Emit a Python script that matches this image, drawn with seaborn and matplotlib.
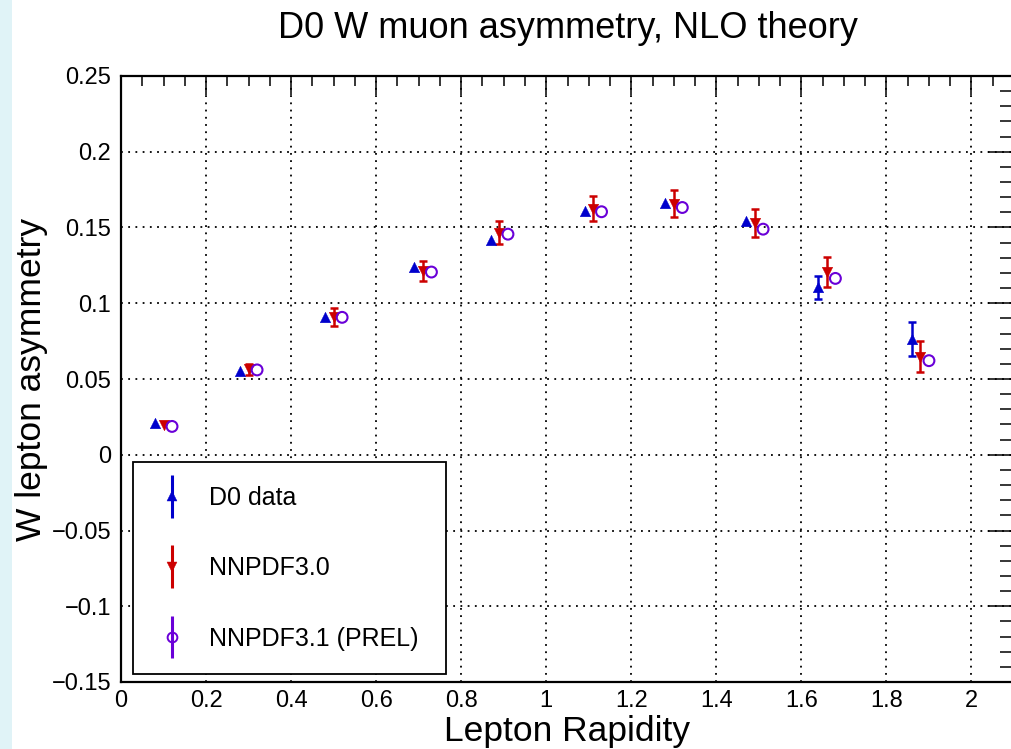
import numpy as np
import pandas as pd
import matplotlib
matplotlib.use("Agg")
import matplotlib.pyplot as plt
import matplotlib.ticker as mticker
from matplotlib.container import ErrorbarContainer
from matplotlib.legend_handler import HandlerErrorbar
from matplotlib.patches import Rectangle
import seaborn as sns

# ---------------- data ----------------
rapidity = [0.10, 0.30, 0.50, 0.71, 0.89, 1.11, 1.30, 1.49, 1.66, 1.88]
offset = 0.02  # horizontal dodge between the three series

d0_asym = [0.021, 0.055, 0.091, 0.124, 0.1415, 0.161, 0.166, 0.1545, 0.1104, 0.0763]
d0_err = [0.0, 0.0, 0.0, 0.0, 0.0, 0.0, 0.0, 0.0, 0.0076, 0.011]

nnpdf30_asym = [0.0195, 0.0563, 0.0910, 0.1215, 0.1466, 0.1625, 0.1658, 0.1527, 0.1206, 0.0648]
nnpdf30_err = [0.0, 0.0037, 0.0058, 0.0066, 0.0078, 0.0083, 0.0088, 0.0092, 0.0101, 0.0105]

nnpdf31_asym = [0.0187, 0.056, 0.0907, 0.1206, 0.1456, 0.1604, 0.1632, 0.1489, 0.1164, 0.0621]
nnpdf31_err = [0.0, 0.0, 0.0, 0.0, 0.0, 0.0, 0.0, 0.0, 0.0, 0.0]

labels = ["D0 data", "NNPDF3.0", "NNPDF3.1 (PREL)"]
title = "D0 W muon asymmetry, NLO theory"
xlabel = "Lepton Rapidity"
ylabel = "W lepton asymmetry"

# ---------------- style ----------------
sns.set_theme(style="white")
plt.rcParams["font.family"] = ["Liberation Sans", "DejaVu Sans"]
plt.rcParams["axes.unicode_minus"] = True
plt.rcParams["text.color"] = "black"
plt.rcParams["axes.labelcolor"] = "black"
plt.rcParams["xtick.color"] = "black"
plt.rcParams["ytick.color"] = "black"

BLUE = "#0000cc"
RED = "#cc0000"
PURPLE = "#6a00d8"

W, H = 1011, 749
fig = plt.figure(figsize=(W / 100, H / 100), dpi=100)
fig.patch.set_facecolor("white")
# light cyan strip at the left edge of the screenshot
fig.patches.append(Rectangle((0, 0), 12 / W, 1, transform=fig.transFigure,
                             facecolor="#e0f3f7", edgecolor="none", zorder=0))

left_px, right_px, top_px, bot_px = 121, 1014, 76, 682
ax = fig.add_axes([left_px / W, 1 - bot_px / H, (right_px - left_px) / W, (bot_px - top_px) / H])
ax.set_facecolor("white")

x_d0 = np.array(rapidity) - offset
x_30 = np.array(rapidity)
x_31 = np.array(rapidity) + offset

df = pd.DataFrame({
    "x": np.concatenate([x_d0, x_30, x_31]),
    "y": np.concatenate([d0_asym, nnpdf30_asym, nnpdf31_asym]),
    "err": np.concatenate([d0_err, nnpdf30_err, nnpdf31_err]),
    "series": np.repeat(labels, len(rapidity)),
})

styles = {
    labels[0]: dict(color=BLUE, marker="^", ms=7.6, filled=True),
    labels[1]: dict(color=RED, marker="v", ms=7.6, filled=True),
    labels[2]: dict(color=PURPLE, marker="o", ms=7.8, filled=False),
}

handles = []
for lab in labels:
    st = styles[lab]
    sub = df[df["series"] == lab]
    m = sub["err"] > 0
    if m.any():
        ax.errorbar(sub["x"][m], sub["y"][m], yerr=sub["err"][m], fmt="none",
                    ecolor=st["color"], elinewidth=1.8, capsize=2.7, capthick=1.8, zorder=3)
    if st["filled"]:
        sns.scatterplot(data=sub, x="x", y="y", ax=ax, marker=st["marker"],
                        color=st["color"], s=st["ms"] ** 2, edgecolor=st["color"],
                        linewidth=0.3, zorder=4, legend=False)
    else:
        sns.scatterplot(data=sub, x="x", y="y", ax=ax, marker=st["marker"],
                        facecolors="none", edgecolor=st["color"], s=st["ms"] ** 2,
                        linewidth=1.5, zorder=4, legend=False)
    h = ax.errorbar([np.nan], [np.nan], yerr=[1.0], fmt=st["marker"], color=st["color"],
                    ms=st["ms"] * 0.9, mfc=(st["color"] if st["filled"] else "none"),
                    mec=st["color"], mew=(0.3 if st["filled"] else 1.4),
                    elinewidth=2.2, capsize=0, label=lab)
    handles.append(h)

# ---------------- axes ----------------
ax.set_xlim(0, 2.1)
ax.set_ylim(-0.15, 0.25)

ax.xaxis.set_major_locator(mticker.MultipleLocator(0.2))
ax.xaxis.set_minor_locator(mticker.MultipleLocator(0.05))
ax.yaxis.set_major_locator(mticker.MultipleLocator(0.05))
ax.yaxis.set_minor_locator(mticker.MultipleLocator(0.01))

def fmt(v, pos):
    s = "%g" % round(v, 6)
    if s == "-0":
        s = "0"
    return s.replace("-", "\u2212")

ax.xaxis.set_major_formatter(mticker.FuncFormatter(fmt))
ax.yaxis.set_major_formatter(mticker.FuncFormatter(fmt))

ax.tick_params(which="both", direction="in", top=True, right=True, color="black",
               labelsize=17, labelcolor="black")
ax.tick_params(axis="x", which="major", length=14, width=1.1, pad=6)
ax.tick_params(axis="x", which="minor", length=7, width=1.1)
ax.tick_params(axis="y", which="major", length=19, width=1.1, pad=7)
ax.tick_params(axis="y", which="minor", length=10, width=1.1)

for sp in ax.spines.values():
    sp.set_visible(True)
    sp.set_color("black")
    sp.set_linewidth(1.6)

ax.set_axisbelow(True)
ax.grid(True, which="major", color="black", linestyle=(0, (1, 3.0)), linewidth=1.3)

ax.set_xlabel(xlabel, fontsize=25.5, color="black", labelpad=2)
ax.set_ylabel(ylabel, fontsize=25.5, color="black")
ax.yaxis.set_label_coords((48 - left_px) / (right_px - left_px), 0.5)
fig.text((left_px + right_px) / 2 / W, 1 - 28 / H, title, ha="center", va="center",
         fontsize=26, color="black")

leg = ax.legend(handles=handles, labels=labels, loc="lower left",
                bbox_to_anchor=(0.0135, 0.0125, 0.35, 0.35), mode="expand",
                fontsize=18, frameon=True, fancybox=False, framealpha=1,
                edgecolor="black", borderpad=0.95, labelspacing=1.85,
                handlelength=1.2, handletextpad=0.9, borderaxespad=0,
                handler_map={ErrorbarContainer: HandlerErrorbar(xerr_size=0.5, yerr_size=0.85)})
leg.get_frame().set_linewidth(1.3)
leg.set_zorder(10)
for t in leg.get_texts():
    t.set_color("black")

fig.savefig("out.png", dpi=100)
